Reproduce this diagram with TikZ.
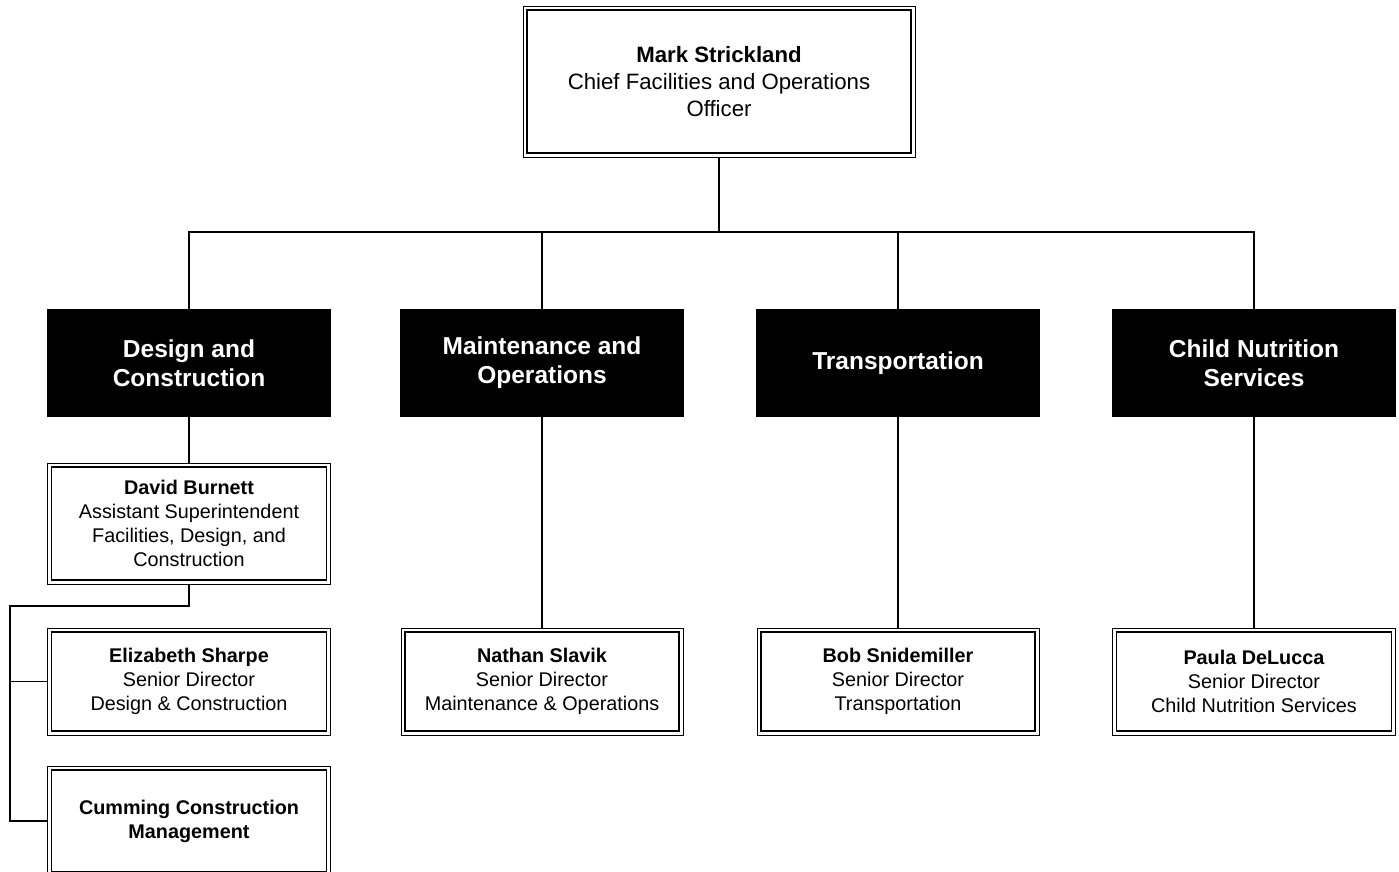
\documentclass[tikz,border=0pt]{standalone}
\usepackage{fontspec}
\setmainfont{Liberation Sans}
\begin{document}
\begin{tikzpicture}[x=1pt,y=-1pt,
  conn/.style={line width=1.3pt},
  pers/.style={draw, line width=1.6pt, outer sep=4pt, inner sep=0pt, align=center, font=\fontsize{19.8}{24}\selectfont},
  dept/.style={fill=black, text=white, minimum width=284pt, minimum height=108pt, inner sep=0pt, align=center, font=\fontsize{24.5}{29}\selectfont\bfseries},
  outerline/.style={line width=0.9pt}]
\useasboundingbox (0,0) rectangle (1399,871);
% top
\node[pers, minimum width=384pt, minimum height=143pt, font=\fontsize{22.2}{27}\selectfont] (top) at (719,81.5) {\textbf{Mark Strickland}\\Chief Facilities and Operations\\Officer};
% departments
\node[dept] (dc) at (189,363) {Design and\\Construction};
\node[dept] (mo) at (542,363) {Maintenance and\\Operations};
\node[dept] (tr) at (898,363) {Transportation};
\node[dept] (cn) at (1254,363) {Child Nutrition\\Services};
% people
\node[pers, minimum width=275pt, minimum height=113pt] (db) at (189,523.5) {\textbf{David Burnett}\\Assistant Superintendent\\Facilities, Design, and\\Construction};
\node[pers, minimum width=275pt, minimum height=99pt] (es) at (189,681.5) {\textbf{Elizabeth Sharpe}\\Senior Director\\Design \& Construction};
\node[pers, minimum width=275pt, minimum height=102pt] (cc) at (189,821) {\textbf{Cumming Construction}\\\textbf{Management}};
\node[pers, minimum width=274pt, minimum height=99pt] (ns) at (542,681.5) {\textbf{Nathan Slavik}\\Senior Director\\Maintenance \& Operations};
\node[pers, minimum width=274pt, minimum height=99pt] (bs) at (898,681.5) {\textbf{Bob Snidemiller}\\Senior Director\\Transportation};
\node[pers, minimum width=275pt, minimum height=99pt] (pd) at (1254,681.5) {\textbf{Paula DeLucca}\\Senior Director\\Child Nutrition Services};
\foreach \n in {top,db,es,cc,ns,bs,pd}
  \draw[outerline] (\n.south west) rectangle (\n.north east);
% connectors
\coordinate (j) at (719,232);
\foreach \b in {dc,mo,tr,cn}
  \draw[conn] (top.south) -- (j) -| (\b.north);
\draw[conn] (dc.south) -- (db.north);
\draw[conn] (mo.south) -- (ns.north);
\draw[conn] (tr.south) -- (bs.north);
\draw[conn] (cn.south) -- (pd.north);
\coordinate (k) at (10,606);
\draw[conn] (db.south) |- (k) |- (cc.west);
\draw[conn] (k) |- (es.west);
\end{tikzpicture}
\end{document}
